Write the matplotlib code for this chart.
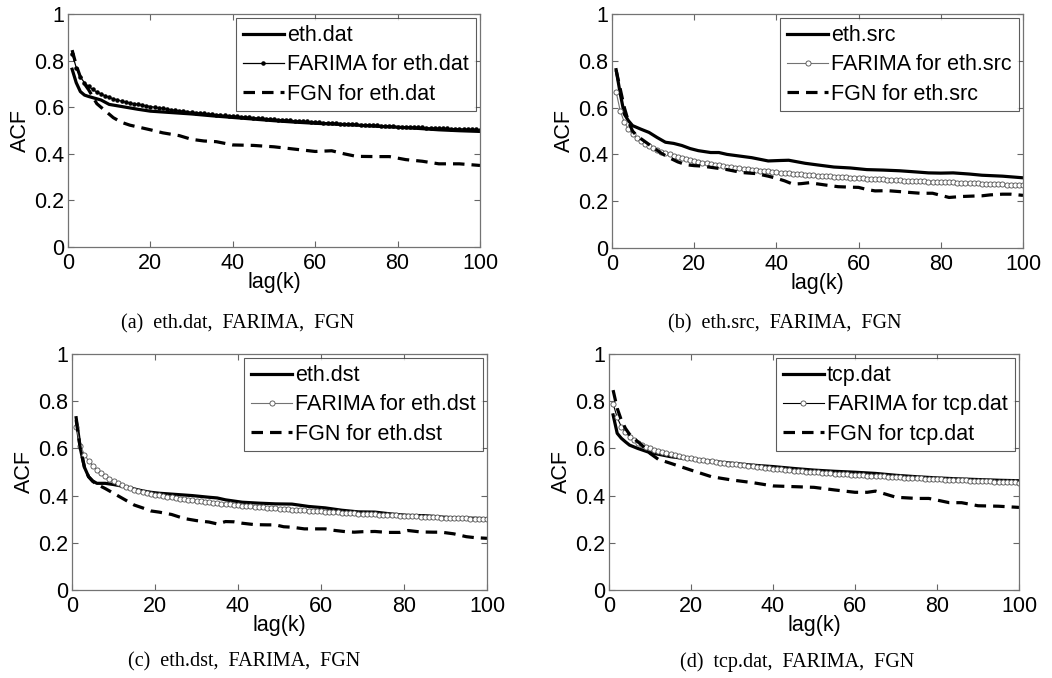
import matplotlib
matplotlib.use("Agg")
import matplotlib.pyplot as plt

plt.rcParams['font.family'] = ['Liberation Sans', 'DejaVu Sans']

# ---- data ----
lags = list(range(1, 101))

# (a) eth.dat
a_obs_lag = [1, 2, 3, 4, 5, 6, 8, 10, 13, 15, 17, 20, 25, 30, 35, 40, 45, 50, 55, 60, 65, 70, 75, 80, 85, 90, 95, 100]
a_obs = [0.763, 0.705, 0.667, 0.652, 0.646, 0.641, 0.631, 0.612, 0.603, 0.597, 0.591, 0.583, 0.577, 0.571,
         0.563, 0.556, 0.549, 0.542, 0.536, 0.531, 0.527, 0.523, 0.518, 0.514, 0.509, 0.503, 0.499, 0.496]
a_farima = [0.830, 0.770, 0.730, 0.705, 0.690, 0.676, 0.665, 0.657, 0.649, 0.642,
            0.636, 0.631, 0.626, 0.622, 0.618, 0.615, 0.612, 0.609, 0.606, 0.603,
            0.600, 0.597, 0.595, 0.592, 0.589, 0.587, 0.585, 0.583, 0.581, 0.579,
            0.577, 0.575, 0.573, 0.572, 0.570, 0.568, 0.567, 0.565, 0.564, 0.562,
            0.561, 0.559, 0.558, 0.557, 0.555, 0.554, 0.553, 0.551, 0.550, 0.548,
            0.547, 0.546, 0.545, 0.544, 0.542, 0.541, 0.540, 0.539, 0.537, 0.536,
            0.535, 0.534, 0.533, 0.532, 0.531, 0.530, 0.529, 0.528, 0.527, 0.526,
            0.525, 0.524, 0.523, 0.523, 0.522, 0.521, 0.520, 0.519, 0.518, 0.517,
            0.516, 0.516, 0.515, 0.514, 0.514, 0.513, 0.512, 0.511, 0.511, 0.510,
            0.510, 0.509, 0.508, 0.508, 0.507, 0.507, 0.506, 0.505, 0.505, 0.504]
a_fgn_lag = [1, 2, 3, 4, 5, 6, 7, 9, 11, 13, 15, 18, 20, 23, 27, 30, 33, 36, 40, 45, 50, 55, 60, 64, 67,
             70, 75, 78, 82, 86, 90, 95, 100]
a_fgn = [0.845, 0.78, 0.73, 0.70, 0.675, 0.645, 0.615, 0.585, 0.555, 0.535, 0.523, 0.511, 0.503, 0.49,
         0.478, 0.462, 0.455, 0.452, 0.438, 0.436, 0.43, 0.42, 0.41, 0.413, 0.40, 0.389, 0.388, 0.388,
         0.375, 0.368, 0.357, 0.357, 0.35]

# (b) eth.src
b_obs_lag = [1, 2, 3, 4, 5, 7, 9, 11, 13, 15, 17, 19, 21, 24, 26, 28, 31, 34, 38, 41, 43, 47, 50, 54,
             58, 62, 66, 70, 74, 77, 80, 83, 87, 90, 95, 100]
b_obs = [0.762, 0.66, 0.572, 0.544, 0.523, 0.508, 0.494, 0.472, 0.452, 0.447, 0.438, 0.425, 0.416, 0.408,
         0.408, 0.40, 0.393, 0.386, 0.372, 0.374, 0.375, 0.362, 0.355, 0.346, 0.342, 0.335, 0.333, 0.330,
         0.325, 0.321, 0.320, 0.321, 0.316, 0.311, 0.307, 0.300]
b_farima = [0.668, 0.586, 0.537, 0.508, 0.486, 0.470, 0.456, 0.445, 0.435, 0.427,
            0.418, 0.411, 0.405, 0.400, 0.394, 0.389, 0.384, 0.379, 0.375, 0.372,
            0.368, 0.365, 0.362, 0.359, 0.356, 0.353, 0.350, 0.348, 0.346, 0.343,
            0.341, 0.339, 0.337, 0.335, 0.333, 0.331, 0.329, 0.327, 0.325, 0.323,
            0.322, 0.320, 0.319, 0.317, 0.316, 0.315, 0.313, 0.312, 0.310, 0.309,
            0.308, 0.307, 0.306, 0.305, 0.304, 0.303, 0.302, 0.301, 0.300, 0.299,
            0.298, 0.297, 0.296, 0.295, 0.294, 0.293, 0.292, 0.291, 0.290, 0.289,
            0.288, 0.288, 0.287, 0.286, 0.285, 0.285, 0.284, 0.283, 0.282, 0.282,
            0.281, 0.280, 0.280, 0.279, 0.278, 0.278, 0.277, 0.277, 0.276, 0.275,
            0.275, 0.274, 0.273, 0.273, 0.272, 0.271, 0.271, 0.270, 0.269, 0.268]
b_fgn_lag = [1, 2, 3, 4, 5, 6, 8, 10, 12, 14, 16, 18, 20, 22, 24, 26, 28, 30, 32, 35, 38, 40, 42, 44,
             46, 48, 50, 52, 55, 58, 60, 62, 64, 67, 70, 72, 75, 78, 80, 82, 85, 88, 90, 92, 95, 97, 100]
b_fgn = [0.76, 0.68, 0.60, 0.54, 0.50, 0.48, 0.455, 0.43, 0.405, 0.385, 0.368, 0.356, 0.352, 0.35, 0.345,
         0.34, 0.335, 0.328, 0.322, 0.318, 0.307, 0.298, 0.287, 0.273, 0.275, 0.279, 0.274, 0.269, 0.262,
         0.26, 0.259, 0.25, 0.244, 0.245, 0.241, 0.238, 0.234, 0.234, 0.225, 0.216, 0.22, 0.222, 0.223,
         0.227, 0.23, 0.23, 0.225]

# (c) eth.dst
c_obs_lag = [1, 2, 3, 4, 5, 6, 8, 10, 13, 15, 17, 19, 21, 25, 29, 33, 35, 37, 41, 45, 49, 53, 57, 61,
             65, 69, 73, 77, 81, 85, 89, 93, 97, 100]
c_obs = [0.73, 0.60, 0.52, 0.48, 0.462, 0.452, 0.452, 0.447, 0.437, 0.428, 0.42, 0.414, 0.41, 0.405,
         0.40, 0.393, 0.39, 0.382, 0.372, 0.368, 0.365, 0.364, 0.354, 0.348, 0.338, 0.331, 0.330, 0.322,
         0.316, 0.315, 0.309, 0.305, 0.304, 0.302]
c_farima = [0.692, 0.612, 0.574, 0.547, 0.527, 0.510, 0.494, 0.481, 0.470, 0.461,
            0.452, 0.444, 0.437, 0.431, 0.425, 0.420, 0.415, 0.411, 0.407, 0.404,
            0.401, 0.398, 0.395, 0.392, 0.390, 0.387, 0.385, 0.382, 0.380, 0.378,
            0.376, 0.374, 0.372, 0.370, 0.368, 0.366, 0.364, 0.363, 0.361, 0.359,
            0.358, 0.356, 0.355, 0.353, 0.352, 0.350, 0.349, 0.348, 0.346, 0.345,
            0.344, 0.342, 0.341, 0.340, 0.339, 0.338, 0.336, 0.335, 0.334, 0.333,
            0.332, 0.331, 0.330, 0.329, 0.328, 0.327, 0.326, 0.325, 0.324, 0.323,
            0.322, 0.321, 0.320, 0.319, 0.318, 0.317, 0.317, 0.316, 0.315, 0.314,
            0.313, 0.312, 0.312, 0.311, 0.310, 0.309, 0.309, 0.308, 0.307, 0.306,
            0.306, 0.305, 0.304, 0.304, 0.303, 0.302, 0.302, 0.301, 0.300, 0.300]
c_fgn_lag = [1, 2, 3, 4, 5, 6, 8, 10, 12, 15, 17, 19, 21, 24, 27, 30, 33, 35, 37, 39, 41, 44, 47, 49,
             51, 53, 56, 58, 61, 63, 66, 68, 70, 73, 76, 79, 81, 84, 87, 89, 92, 95, 97, 100]
c_fgn = [0.72, 0.60, 0.52, 0.48, 0.46, 0.448, 0.43, 0.41, 0.39, 0.36, 0.348, 0.335, 0.330, 0.32, 0.303,
         0.294, 0.288, 0.28, 0.29, 0.289, 0.283, 0.277, 0.276, 0.276, 0.268, 0.266, 0.259, 0.259, 0.259,
         0.253, 0.247, 0.245, 0.247, 0.248, 0.244, 0.244, 0.252, 0.246, 0.245, 0.245, 0.238, 0.226,
         0.222, 0.219]

# (d) tcp.dat
d_obs_lag = [1, 2, 3, 4, 5, 7, 10, 13, 15, 20, 25, 30, 35, 40, 45, 50, 55, 60, 65, 70, 75, 80, 85, 90, 95, 100]
d_obs = [0.742, 0.664, 0.643, 0.628, 0.614, 0.60, 0.582, 0.572, 0.565, 0.554, 0.545, 0.537, 0.529, 0.523,
         0.515, 0.508, 0.503, 0.499, 0.494, 0.486, 0.480, 0.475, 0.471, 0.468, 0.465, 0.463]
d_farima = [0.789, 0.731, 0.692, 0.668, 0.650, 0.636, 0.625, 0.616, 0.608, 0.601,
            0.595, 0.589, 0.584, 0.579, 0.575, 0.571, 0.568, 0.564, 0.561, 0.558,
            0.555, 0.552, 0.550, 0.547, 0.545, 0.542, 0.540, 0.538, 0.536, 0.534,
            0.532, 0.530, 0.528, 0.526, 0.524, 0.522, 0.520, 0.518, 0.516, 0.514,
            0.512, 0.511, 0.509, 0.508, 0.506, 0.505, 0.503, 0.502, 0.500, 0.499,
            0.498, 0.497, 0.496, 0.494, 0.493, 0.492, 0.491, 0.490, 0.489, 0.488,
            0.487, 0.486, 0.485, 0.484, 0.483, 0.482, 0.481, 0.480, 0.479, 0.478,
            0.477, 0.476, 0.475, 0.475, 0.474, 0.473, 0.472, 0.471, 0.470, 0.469,
            0.469, 0.468, 0.467, 0.466, 0.466, 0.465, 0.464, 0.463, 0.463, 0.462,
            0.461, 0.461, 0.460, 0.459, 0.459, 0.458, 0.457, 0.457, 0.456, 0.455]
d_fgn_lag = [1, 2, 3, 4, 5, 6, 8, 10, 12, 15, 20, 25, 30, 35, 40, 45, 50, 55, 60, 63, 65, 70, 75, 78,
             80, 83, 86, 90, 95, 100]
d_fgn = [0.847, 0.77, 0.72, 0.685, 0.66, 0.643, 0.614, 0.579, 0.554, 0.537, 0.508, 0.48, 0.466, 0.455,
         0.441, 0.438, 0.435, 0.424, 0.414, 0.414, 0.419, 0.393, 0.388, 0.388, 0.381, 0.37, 0.37, 0.357,
         0.355, 0.35]

panels = [
    ('eth.dat', a_obs_lag, a_obs, a_farima, a_fgn_lag, a_fgn, '(a)  eth.dat,  FARIMA,  FGN'),
    ('eth.src', b_obs_lag, b_obs, b_farima, b_fgn_lag, b_fgn, '(b)  eth.src,  FARIMA,  FGN'),
    ('eth.dst', c_obs_lag, c_obs, c_farima, c_fgn_lag, c_fgn, '(c)  eth.dst,  FARIMA,  FGN'),
    ('tcp.dat', d_obs_lag, d_obs, d_farima, d_fgn_lag, d_fgn, '(d)  tcp.dat,  FARIMA,  FGN'),
]

W, H = 1052, 678
# axes boxes in pixels: left, top, right, bottom
boxes = [(68, 14, 480, 247), (612, 14, 1023, 248), (72, 354, 487, 590), (609, 354, 1019, 590)]
caption_pos = [(238, 324), (785, 324), (244, 662), (797, 662)]

fig = plt.figure(figsize=(W / 100, H / 100), dpi=100)
fs = 15.5

for i, (name, olag, obs, far, glag, fgn, cap) in enumerate(panels):
    l, t, r, b = boxes[i]
    ax = fig.add_axes([l / W, 1 - b / H, (r - l) / W, (b - t) / H])
    ax.plot(olag, obs, color='black', lw=2.3, label=name)
    if i == 0:
        ax.plot(lags, far, color='black', lw=0.9, marker='.', ms=4.5,
                label='FARIMA for ' + name)
    else:
        lc = '0.45' if i in (1, 2) else 'black'
        ax.plot(lags, far, color=lc, lw=0.8, marker='o', ms=3.7, mfc='white',
                mec='0.3', mew=0.6, label='FARIMA for ' + name)
    ax.plot(glag, fgn, color='black', lw=2.3, ls='--', dashes=(3.6, 2.2), label='FGN for ' + name)

    ax.set_xlim(0, 100)
    ax.set_ylim(0, 1)
    ax.set_xticks([0, 20, 40, 60, 80, 100])
    ax.set_yticks([0, 0.2, 0.4, 0.6, 0.8, 1])
    ax.set_yticklabels(['0', '0.2', '0.4', '0.6', '0.8', '1'])
    ax.tick_params(direction='in', length=4, width=0.8, color='0.4', top=True, right=True,
                   labelsize=fs)
    ax.tick_params(axis='x', pad=4)
    ax.tick_params(axis='y', pad=3)
    for s in ax.spines.values():
        s.set_color('0.45')
        s.set_linewidth(0.9)
    ax.set_xlabel('lag(k)', fontsize=fs, labelpad=-1)
    ax.set_ylabel('ACF', fontsize=fs, labelpad=2)

    leg = ax.legend(loc='upper right', bbox_to_anchor=(1, 1), fontsize=fs, frameon=True,
                    fancybox=False, borderaxespad=0.2, handlelength=1.9, handletextpad=0.15,
                    labelspacing=0.38, borderpad=0.32)
    leg.get_frame().set_edgecolor('0.2')
    leg.get_frame().set_linewidth(0.8)

    cx, cy = caption_pos[i]
    fig.text(cx / W, 1 - cy / H, cap, family=['Liberation Serif', 'DejaVu Serif'],
             fontsize=14.5, ha='center', va='center')

fig.savefig('out.png', dpi=100)
